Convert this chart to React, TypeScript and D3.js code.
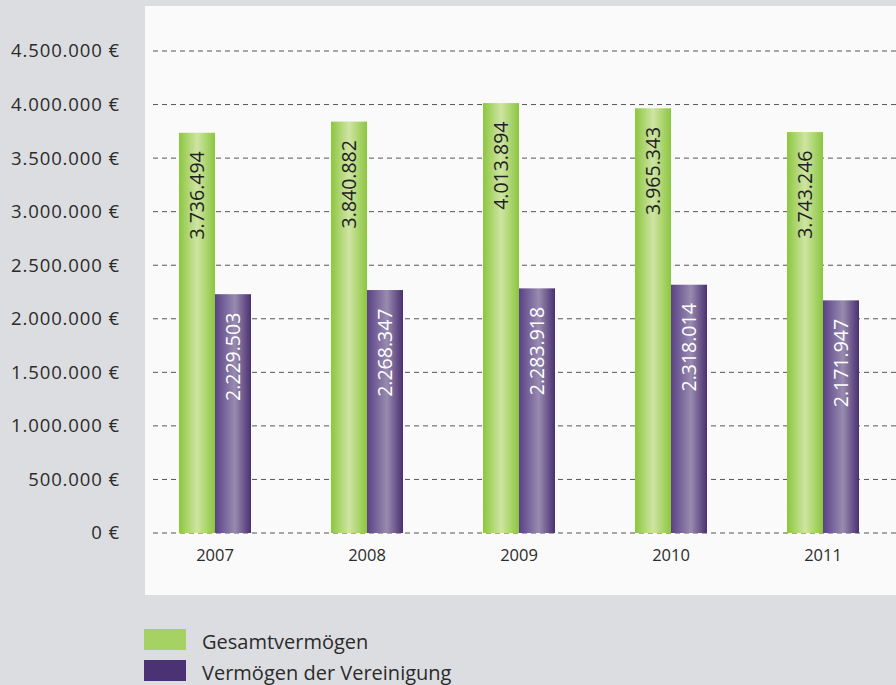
import React from "react";
import * as d3 from "d3";

const years = ["2007", "2008", "2009", "2010", "2011"];
const gesamt = [3736494, 3840882, 4013894, 3965343, 3743246];
const vereinigung = [2229503, 2268347, 2283918, 2318014, 2171947];
const yTicks = [0, 500000, 1000000, 1500000, 2000000, 2500000, 3000000, 3500000, 4000000, 4500000];
const seriesNames = ["Gesamtvermögen", "Vermögen der Vereinigung"];

const W = 896;
const H = 685;
const FONT = "'Open Sans', 'Noto Sans', sans-serif";

const fmt = (v: number) => d3.format(",")(v).replace(/,/g, ".");

export default function App() {
  const y = d3.scaleLinear().domain([0, 4500000]).range([533, 51]);
  const x = d3.scaleBand().domain(years).range([139, 899]);
  const barW = 36;

  return (
    <svg width={W} height={H} style={{ position: "absolute", left: 0, top: 0, display: "block" }}>
      <defs>
        <linearGradient id="gGreen" x1="0" x2="1" y1="0" y2="0">
          <stop offset="0" stopColor="#8cc63e" />
          <stop offset="0.5" stopColor="#cfe5a4" />
          <stop offset="1" stopColor="#8cc63e" />
        </linearGradient>
        <linearGradient id="gPurple" x1="0" x2="1" y1="0" y2="0">
          <stop offset="0" stopColor="#5a4185" />
          <stop offset="0.55" stopColor="#998bb0" />
          <stop offset="1" stopColor="#4a3070" />
        </linearGradient>
      </defs>
      <rect x={0} y={0} width={W} height={H} fill="#dcdde0" />
      <rect x={145} y={6} width={W - 145} height={589} fill="#fafafa" />

      {yTicks.map((t) => (
        <g key={t}>
          <line x1={153} x2={W} y1={y(t)} y2={y(t)} stroke="#555" strokeWidth={1} strokeDasharray="5,4" />
          <text
            x={120}
            y={y(t)}
            dy="0.35em"
            textAnchor="end"
            fontFamily={FONT}
            fontSize={18.5}
            letterSpacing={0.9}
            fill="#2b2b2b"
          >
            {fmt(t)} €
          </text>
        </g>
      ))}

      {years.map((yr, i) => {
        const c = (x(yr) as number) + x.bandwidth() / 2;
        const gx = c - barW;
        const px = c;
        const gy = y(gesamt[i]);
        const py = y(vereinigung[i]);
        return (
          <g key={yr}>
            <rect x={gx} y={gy} width={barW} height={y(0) - gy} fill="url(#gGreen)" />
            <rect x={px} y={py} width={barW} height={y(0) - py} fill="url(#gPurple)" />
            <text
              transform={`translate(${gx + barW / 2},${gy + 18.5}) rotate(-90)`}
              textAnchor="end"
              dy="0.35em"
              fontFamily={FONT}
              fontSize={19.5}
              fill="#222"
            >
              {fmt(gesamt[i])}
            </text>
            <text
              transform={`translate(${px + barW / 2},${py + 18.5}) rotate(-90)`}
              textAnchor="end"
              dy="0.35em"
              fontFamily={FONT}
              fontSize={19.5}
              fill="#ffffff"
            >
              {fmt(vereinigung[i])}
            </text>
            <text x={c} y={555} dy="0.35em" textAnchor="middle" fontFamily={FONT} fontSize={16.5} fill="#2b2b2b">
              {yr}
            </text>
          </g>
        );
      })}

      {seriesNames.map((n, i) => (
        <g key={n}>
          <rect x={144} y={629 + i * 31} width={42} height={21} fill={i === 0 ? "#a6d264" : "#4a3275"} />
          <text x={202} y={642 + i * 30.5} dy="0.35em" fontFamily={FONT} fontSize={20} fill="#2b2b2b">
            {n}
          </text>
        </g>
      ))}
    </svg>
  );
}
